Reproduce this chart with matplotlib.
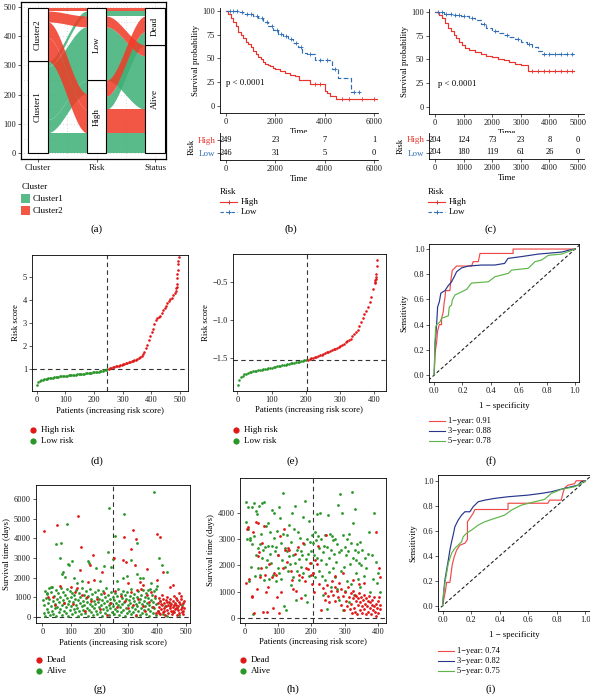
import numpy as np
import matplotlib
matplotlib.use('Agg')
import matplotlib.pyplot as plt
from matplotlib.patches import Rectangle

plt.rcParams['font.family'] = ['Liberation Serif', 'DejaVu Serif']
plt.rcParams['font.size'] = 6
plt.rcParams['axes.linewidth'] = 0.6
plt.rcParams['xtick.major.size'] = 2
plt.rcParams['ytick.major.size'] = 2
plt.rcParams['xtick.major.width'] = 0.5
plt.rcParams['ytick.major.width'] = 0.5
plt.rcParams['xtick.labelsize'] = 6
plt.rcParams['ytick.labelsize'] = 6
plt.rcParams['xtick.major.pad'] = 1.5
plt.rcParams['ytick.major.pad'] = 1.5
plt.rcParams['axes.labelsize'] = 6.3

# ---------------- data ----------------
# (a) alluvial: one entry per cluster/risk/status group
flow_cluster = ['Cluster1', 'Cluster1', 'Cluster1', 'Cluster1', 'Cluster2', 'Cluster2', 'Cluster2', 'Cluster2']
flow_risk = ['High', 'High', 'Low', 'Low', 'High', 'High', 'Low', 'Low']
flow_status = ['Alive', 'Dead', 'Alive', 'Dead', 'Alive', 'Dead', 'Alive', 'Dead']
flow_n = [70, 45, 183, 17, 80, 54, 37, 9]
axis_names = ['Cluster', 'Risk', 'Status']
axis_levels = [['Cluster1', 'Cluster2'], ['High', 'Low'], ['Alive', 'Dead']]
# stacking order of the groups (bottom to top) at each end of each flow segment
order_cluster = [0, 1, 2, 3, 4, 5, 6, 7]
order_risk_left = [0, 4, 5, 1, 2, 6, 3, 7]
order_risk_right = [0, 4, 1, 5, 2, 6, 3, 7]
order_status = [0, 4, 2, 6, 1, 5, 3, 7]

# (b) KM, training set
b_high_t = [0, 100, 200, 300, 400, 500, 600, 700, 800, 900, 1000, 1100, 1200, 1300, 1400, 1500, 1600, 1700,
            1800, 1900, 2000, 2200, 2400, 2600, 2800, 2950, 3400, 4000, 4100, 4200, 4450, 6300]
b_high_s = [100, 96, 92, 88, 84, 78, 75, 71, 67, 65, 62, 58, 55, 51, 49, 46, 44, 43,
            42, 40, 39, 37, 35, 33, 32, 27, 23, 16, 14, 11, 7.3, 7.3]
b_low_t = [0, 500, 700, 900, 1100, 1300, 1500, 1700, 1900, 2100, 2300, 2500, 2700, 2900, 3100, 3300, 3600,
           4300, 4550, 5050, 5450]
b_low_s = [100, 99, 97, 96, 94, 92, 88, 84, 80, 76, 73, 70, 66, 62, 56, 55, 48, 39, 29, 15, 15]
b_high_cens = [3600, 3800, 4700, 5000, 5500, 6000]
b_low_cens = [150, 300, 450, 650, 850, 1000, 1250, 1450, 1650, 1850, 2050, 2250, 2450, 2650, 2850, 3050,
              3400, 3800, 4100, 4400, 5200, 5400]
b_tab_t = [0, 2000, 4000, 6000]
b_tab_high = [249, 23, 7, 1]
b_tab_low = [246, 31, 5, 0]

# (c) KM, validation set
c_high_t = [0, 150, 250, 350, 450, 550, 650, 750, 850, 950, 1050, 1200, 1400, 1600, 1800, 2000, 2200, 2400,
            2600, 2800, 3000, 3250, 4850]
c_high_s = [100, 97, 93, 88, 83, 80, 76, 72, 68, 65, 62, 60, 58, 56, 54, 53, 51, 49, 47, 45, 44, 38.3, 38.3]
c_low_t = [0, 300, 600, 900, 1200, 1400, 1600, 1800, 2000, 2200, 2400, 2600, 2800, 3000, 3200, 3400, 3600,
           3750, 4850]
c_low_s = [100, 98, 97, 95, 93, 91, 87, 83, 80, 78, 76, 74, 71, 68, 66, 63, 59, 56, 56]
c_high_cens = [3400, 3600, 3800, 4000, 4200, 4400, 4600, 4800]
c_low_cens = [100, 250, 400, 550, 700, 850, 1000, 1300, 1700, 2100, 2500, 2900, 3300, 3800, 4000, 4200, 4400,
              4600, 4800]
c_tab_t = [0, 1000, 2000, 3000, 4000, 5000]
c_tab_high = [204, 124, 73, 23, 8, 0]
c_tab_low = [204, 180, 119, 61, 26, 0]

# (d) sorted risk score, training set (every 5th patient, then each of the last ten)
d_cut_pat = 247
d_cut_score = 1.03
d_pat = list(range(1, 486, 5)) + list(range(486, 496))
d_score = [0.32, 0.45, 0.50, 0.53, 0.55, 0.57, 0.59, 0.60, 0.61, 0.62, 0.63, 0.64, 0.65, 0.66, 0.67, 0.68,
           0.69, 0.70, 0.71, 0.72, 0.73, 0.73, 0.74, 0.75, 0.75, 0.76, 0.77, 0.77, 0.78, 0.79, 0.79, 0.80,
           0.81, 0.81, 0.82, 0.83, 0.84, 0.85, 0.85, 0.86, 0.87, 0.88, 0.89, 0.90, 0.91, 0.93, 0.94, 0.96,
           0.98, 1.00,
           1.03, 1.05, 1.06, 1.08, 1.10, 1.12, 1.14, 1.16, 1.18, 1.20, 1.22, 1.24, 1.26, 1.28, 1.30, 1.32,
           1.34, 1.37, 1.39, 1.42, 1.45, 1.48, 1.52, 1.58, 1.66, 1.76, 1.90, 2.05, 2.25, 2.45, 2.60, 2.75,
           2.95, 3.12, 3.20, 3.25, 3.30, 3.42, 3.55, 3.65, 3.75, 3.85, 3.95, 4.02, 4.10, 4.20, 4.30,
           4.40, 4.50, 4.55, 4.70, 4.95, 5.10, 5.30, 5.55, 5.70, 5.85]

# (e) sorted risk score, validation set
e_cut_pat = 204
e_cut_score = -1.53
e_pat = list(range(1, 402, 5)) + list(range(402, 409))
e_score = [-1.86, -1.79, -1.76, -1.74, -1.72, -1.71, -1.70, -1.69, -1.685, -1.68, -1.675, -1.67, -1.668,
           -1.665, -1.66, -1.655, -1.65, -1.645, -1.64, -1.635, -1.63, -1.625, -1.62, -1.615, -1.61, -1.605,
           -1.60, -1.595, -1.59, -1.585, -1.58, -1.575, -1.57, -1.565, -1.56, -1.555, -1.55, -1.545, -1.54,
           -1.535, -1.53,
           -1.525, -1.52, -1.51, -1.50, -1.495, -1.49, -1.48, -1.47, -1.46, -1.45, -1.44, -1.43, -1.42,
           -1.41, -1.40, -1.39, -1.38, -1.37, -1.36, -1.345, -1.33, -1.315, -1.30, -1.28, -1.265, -1.25,
           -1.22, -1.19, -1.16, -1.13, -1.08, -1.03, -0.98, -0.93, -0.88, -0.83, -0.77, -0.70, -0.60, -0.52,
           -0.50, -0.48, -0.46, -0.44, -0.40, -0.30, -0.22]

# (f) ROC, training set
f_fpr1 = [0, 0.005, 0.017, 0.024, 0.036, 0.052, 0.052, 0.064, 0.071, 0.076, 0.081, 0.111, 0.118, 0.128,
          0.159, 0.265, 0.277, 0.313, 0.325, 0.56, 0.56, 1]
f_tpr1 = [0, 0.17, 0.26, 0.35, 0.40, 0.40, 0.45, 0.50, 0.58, 0.61, 0.67, 0.67, 0.75, 0.83,
          0.865, 0.865, 0.9, 0.9, 0.965, 0.965, 1.0, 1.0]
f_fpr3 = [0, 0.005, 0.01, 0.017, 0.024, 0.036, 0.047, 0.076, 0.1, 0.123, 0.142, 0.159, 0.194, 0.242,
          0.336, 0.43, 0.5, 0.524, 0.62, 0.739, 0.905, 0.953, 1]
f_tpr3 = [0, 0.24, 0.30, 0.40, 0.54, 0.58, 0.65, 0.67, 0.71, 0.74, 0.78, 0.82, 0.85, 0.865,
          0.873, 0.873, 0.886, 0.926, 0.94, 0.96, 0.976, 0.99, 1]
f_fpr5 = [0, 0.005, 0.01, 0.017, 0.04, 0.052, 0.076, 0.1, 0.107, 0.123, 0.128, 0.147, 0.194, 0.23, 0.265,
          0.384, 0.431, 0.526, 0.55, 0.668, 0.716, 0.763, 0.81, 0.905, 0.953, 1]
f_tpr5 = [0, 0.25, 0.38, 0.40, 0.42, 0.45, 0.46, 0.47, 0.54, 0.556, 0.595, 0.635, 0.66, 0.68, 0.73,
          0.74, 0.78, 0.807, 0.833, 0.847, 0.9, 0.913, 0.95, 0.96, 0.98, 1]
f_auc = ['1\u2212year: 0.91', '3\u2212year: 0.88', '5\u2212year: 0.78']

# (i) ROC, validation set
i_fpr1 = [0, 0.012, 0.021, 0.028, 0.051, 0.058, 0.067, 0.081, 0.098, 0.121, 0.156, 0.174, 0.174, 0.191,
          0.214, 0.226, 0.458, 0.458, 0.737, 0.749, 0.83, 0.842, 0.853, 0.877, 0.923, 0.935, 1]
i_tpr1 = [0, 0.072, 0.125, 0.187, 0.187, 0.245, 0.325, 0.39, 0.445, 0.485, 0.5, 0.53, 0.672, 0.7,
          0.74, 0.77, 0.77, 0.82, 0.82, 0.845, 0.845, 0.9, 0.94, 0.965, 0.976, 1.0, 1]
i_fpr3 = [0, 0.007, 0.016, 0.028, 0.04, 0.051, 0.063, 0.074, 0.086, 0.109, 0.133, 0.156, 0.191, 0.214,
          0.249, 0.295, 0.365, 0.458, 0.598, 0.691, 0.761, 0.853, 0.947, 0.97, 1]
i_tpr3 = [0, 0.1, 0.205, 0.285, 0.365, 0.445, 0.512, 0.565, 0.632, 0.685, 0.725, 0.752, 0.752, 0.792,
          0.832, 0.845, 0.859, 0.872, 0.885, 0.899, 0.912, 0.939, 0.965, 0.992, 1]
i_fpr5 = [0, 0.007, 0.016, 0.028, 0.04, 0.063, 0.086, 0.109, 0.133, 0.144, 0.167, 0.202, 0.249, 0.295,
          0.365, 0.435, 0.481, 0.551, 0.644, 0.714, 0.761, 0.83, 0.923, 0.97, 1]
i_tpr5 = [0, 0.1, 0.18, 0.26, 0.34, 0.42, 0.46, 0.485, 0.512, 0.552, 0.579, 0.605, 0.645, 0.672,
          0.699, 0.725, 0.765, 0.805, 0.832, 0.851, 0.899, 0.931, 0.952, 0.979, 1]
i_auc = ['1\u2212year: 0.74', '3\u2212year: 0.82', '5\u2212year: 0.75']

# (g) survival status, training set: (patient rank, survival days)
g_alive = [(3, 850), (5, 200), (7, 600), (9, 1300), (11, 50), (13, 950), (15, 400), (17, 1150), (19, 700),
           (21, 250), (23, 1450), (25, 900), (27, 100), (29, 550), (31, 1250), (33, 300), (35, 1500),
           (37, 800), (39, 150), (41, 1050), (43, 450), (45, 650), (47, 1350), (49, 20), (51, 900),
           (53, 500), (55, 1200), (57, 250), (59, 750), (61, 1000), (63, 400), (65, 1450), (67, 600),
           (69, 100), (71, 850), (73, 1250), (75, 300), (77, 700), (79, 1100), (81, 500), (83, 200),
           (85, 950), (87, 1400), (89, 650), (91, 50), (93, 800), (95, 1300), (97, 350), (99, 1000),
           (101, 550), (103, 150), (105, 1200), (107, 750), (109, 400), (111, 1100), (113, 900), (115, 250),
           (117, 600), (119, 1350), (121, 450), (123, 50), (125, 850), (127, 1200), (129, 300), (131, 700),
           (133, 1000), (135, 150), (137, 550), (139, 1450), (141, 800), (143, 350), (145, 1100), (147, 600),
           (149, 200), (151, 950), (153, 1300), (155, 450), (157, 750), (159, 50), (161, 1050), (163, 350),
           (165, 650), (167, 1400), (169, 250), (171, 900), (173, 550), (175, 1150), (177, 100), (179, 800),
           (181, 450), (183, 1250), (185, 650), (187, 300), (189, 1000), (191, 150), (193, 750), (195, 1350),
           (197, 500), (199, 900), (201, 250), (203, 1150), (205, 600), (207, 50), (209, 850), (211, 400),
           (213, 1300), (215, 700), (217, 200), (219, 1000), (221, 500), (223, 1450), (225, 800), (227, 350),
           (229, 1100), (231, 600), (233, 100), (235, 900), (237, 450), (239, 1250), (241, 700), (243, 250),
           (245, 1000), (247, 550), (249, 150), (251, 850), (253, 1200), (255, 400), (257, 700), (259, 1050),
           (261, 300), (263, 600), (265, 1400), (267, 100), (269, 800), (271, 500), (273, 1150), (275, 250),
           (277, 950), (279, 650), (281, 1300), (283, 350), (285, 750), (287, 50), (289, 1100), (291, 450),
           (293, 900), (295, 200), (297, 1250), (299, 600), (301, 850), (303, 300), (305, 1050), (307, 700),
           (309, 150), (311, 1400), (313, 500), (315, 950), (317, 250), (319, 800), (321, 1150), (323, 400),
           (325, 650), (327, 50), (329, 1000), (331, 550), (333, 300), (335, 1300), (337, 750), (339, 100),
           (341, 900), (343, 450), (345, 1100), (347, 650), (349, 200), (351, 1350), (353, 800), (355, 350),
           (357, 1000), (359, 550), (361, 150), (363, 1200), (365, 700), (367, 400), (369, 950), (371, 50),
           (373, 600), (375, 1400), (377, 300), (379, 850), (381, 500), (383, 1100), (385, 200), (387, 750),
           (389, 1300), (391, 450), (393, 950), (395, 100), (397, 650), (399, 1550), (405, 300), (412, 800),
           (420, 150), (428, 550), (436, 50), (445, 700), (455, 250), (465, 450), (478, 100), (488, 600),
           (48, 3720), (65, 3750), (85, 4740), (62, 2980), (73, 2300), (80, 2050), (105, 2850), (94, 2640),
           (158, 2850), (163, 2730), (187, 2470), (230, 3290), (234, 5540), (238, 2560), (245, 2950),
           (253, 4120), (285, 5250), (294, 2080), (308, 2900), (329, 3750), (340, 1960), (370, 1360),
           (390, 6390), (408, 2980), (416, 2640), (434, 2300), (70, 2200), (90, 2700), (110, 2000),
           (200, 1800), (215, 2600), (260, 1800), (280, 2000), (330, 2200), (350, 2000), (380, 1700),
           (395, 1400), (120, 1700), (140, 1800), (30, 1500), (15, 1200)]
g_dead = [(20, 1000), (38, 1020), (45, 600), (60, 1580), (75, 700), (99, 1530), (108, 650), (115, 1250),
          (122, 1450), (140, 1100), (150, 300), (155, 1020), (170, 800), (190, 900), (200, 400), (215, 1200),
          (225, 100), (235, 700), (255, 1300), (262, 500), (275, 1050), (290, 800), (300, 450), (310, 1250),
          (318, 600), (325, 100), (333, 900), (345, 1400), (350, 550), (358, 300), (365, 1100), (372, 750),
          (380, 1250), (386, 500), (394, 1050), (398, 200),
          (7, 4400), (52, 4690), (123, 5150), (135, 3580), (131, 2390), (176, 3150), (166, 2640), (160, 1790),
          (207, 2300), (181, 1900), (249, 2980), (283, 2900), (292, 2810), (285, 4060), (315, 4430),
          (308, 3460), (327, 3950), (323, 2640), (329, 1360), (340, 1790), (366, 2440), (399, 4230),
          (410, 4090), (422, 2300), (399, 1880), (445, 1530), (455, 1620), (300, 1700), (350, 1600),
          (402, 700), (404, 300), (406, 950), (408, 500), (410, 150), (412, 800), (414, 400), (416, 1100),
          (418, 600), (420, 250), (422, 900), (424, 450), (426, 700), (428, 100), (430, 550), (432, 850),
          (434, 350), (436, 1000), (438, 600), (440, 200), (442, 750), (444, 450), (446, 900), (448, 300),
          (450, 650), (452, 150), (454, 800), (456, 500), (458, 1050), (460, 250), (462, 700), (464, 400),
          (466, 600), (468, 100), (470, 850), (472, 350), (474, 550), (476, 750), (478, 200), (480, 650),
          (482, 400), (484, 900), (486, 250), (488, 500), (490, 700), (492, 150), (494, 450), (495, 800),
          (485, 1050), (475, 1200), (465, 950), (455, 300), (445, 550), (435, 750), (425, 300), (415, 650),
          (407, 200), (490, 300), (470, 450), (460, 600)]

# (h) survival status, validation set
h_alive = [(2, 3650), (4, 4400), (6, 3000), (8, 4200), (10, 3400), (12, 1400), (14, 2950), (16, 3050),
           (18, 1950), (20, 4200), (22, 2800), (24, 150), (26, 3100), (28, 4350), (30, 1600), (32, 4050),
           (34, 2400), (36, 3950), (38, 1900), (40, 2650), (42, 4250), (44, 1650), (46, 2800), (48, 3200),
           (50, 2300), (52, 4350), (54, 2600), (56, 1450), (58, 4400), (60, 2700), (62, 3500), (64, 1950),
           (66, 2200), (68, 3600), (70, 2750), (72, 1500), (74, 2450), (76, 3250), (78, 2100), (80, 4100),
           (82, 2750), (84, 1650), (86, 4000), (88, 3050), (90, 2550), (92, 1400), (94, 2700), (96, 3300),
           (98, 1900), (100, 2400), (102, 4200), (104, 1700), (106, 3800), (108, 2850), (110, 1500),
           (112, 2200), (114, 3200), (116, 4750), (118, 450), (120, 2650), (122, 1950), (124, 300),
           (126, 2550), (128, 3150), (130, 1800), (132, 2350), (134, 3550), (136, 2050), (138, 1250),
           (140, 2900), (142, 4000), (144, 1550), (146, 2400), (148, 3400), (150, 2100), (152, 4250),
           (154, 700), (156, 2600), (158, 1800), (160, 3250), (162, 2250), (164, 1450), (166, 3050),
           (168, 2550), (170, 1950), (172, 2400), (174, 3850), (176, 1700), (178, 2800), (180, 900),
           (182, 4450), (184, 2250), (186, 3000), (188, 600), (190, 2450), (192, 3700), (194, 1600),
           (196, 2900), (198, 2550), (200, 2100), (202, 3150), (204, 1700), (206, 2850), (208, 2400),
           (210, 3250), (212, 1550), (214, 2950), (216, 3950), (218, 2300), (220, 3100), (222, 1800),
           (224, 2650), (226, 4000), (228, 2200), (230, 3000), (232, 1600), (234, 2500), (236, 900),
           (238, 2750), (240, 1450), (242, 3150), (244, 2050), (246, 350), (248, 2700), (250, 3900),
           (252, 1750), (254, 2300), (256, 3200), (258, 1200), (260, 2600), (262, 3100), (264, 2950),
           (266, 1900), (268, 2450), (270, 1550), (272, 3000), (274, 2150), (276, 1100), (278, 2800),
           (280, 4300), (282, 2500), (284, 700), (286, 4700), (288, 1800), (290, 2600), (292, 4000),
           (294, 300), (296, 3150), (298, 1950), (300, 2700), (302, 1050), (304, 2400), (306, 3000),
           (308, 1400), (310, 2550), (312, 3200), (314, 600), (316, 2050), (318, 2850), (320, 1300),
           (322, 4800), (324, 2300), (326, 3600), (328, 900), (330, 2600), (332, 4150), (334, 1700),
           (336, 2200), (338, 2800), (340, 2500), (342, 1500), (344, 2100), (346, 2900), (348, 1200),
           (350, 2000), (354, 2600), (358, 1600), (362, 2300), (366, 1900), (370, 2450), (374, 3250),
           (378, 1000), (382, 2400), (386, 1500), (390, 4000), (394, 2150), (398, 1350), (402, 1700),
           (406, 1000)]
h_dead = [(3, 1350), (6, 3400), (8, 3450), (12, 1500), (20, 850), (22, 800), (25, 3250), (28, 200),
          (32, 3650), (35, 1100), (38, 3600), (40, 2350), (42, 2500), (45, 1550), (48, 1900), (52, 2850),
          (55, 250), (58, 3500), (60, 1650), (64, 1000), (66, 250), (70, 1200), (72, 2050), (80, 1550),
          (84, 400), (88, 1700), (92, 1650), (96, 800), (100, 2400), (104, 200), (106, 3100), (110, 1000),
          (114, 1900), (118, 3400), (122, 2600), (126, 2150), (130, 2650), (134, 2600), (138, 1800),
          (142, 1450), (146, 1100), (150, 2450), (155, 1050), (160, 2700), (164, 1650), (168, 750),
          (172, 1550), (176, 2850), (180, 1400), (185, 1900), (190, 1850), (195, 2100), (198, 1650),
          (202, 1300), (206, 1700), (208, 1000), (212, 2200), (216, 2050), (220, 2750), (224, 1300),
          (230, 300), (236, 1150), (240, 950), (242, 700), (244, 3150), (248, 1250), (250, 850), (254, 600),
          (258, 1050), (262, 1400), (266, 900), (270, 650), (272, 1200), (276, 1050), (280, 800), (284, 1350),
          (288, 500), (290, 1100), (294, 850), (298, 300), (300, 1000), (303, 650), (306, 450), (309, 1200),
          (312, 800), (315, 350), (318, 950), (320, 550), (322, 200), (324, 750), (326, 1050), (328, 400),
          (330, 900), (332, 250), (334, 650), (336, 850), (338, 150), (340, 500), (342, 750), (344, 950),
          (346, 300), (348, 600), (350, 800), (352, 200), (354, 450), (356, 700), (358, 900), (360, 350),
          (362, 550), (364, 150), (366, 750), (368, 450), (370, 650), (372, 250), (374, 850), (376, 400),
          (378, 600), (380, 150), (382, 500), (384, 700), (386, 300), (388, 450), (390, 800), (392, 250),
          (394, 550), (396, 100), (398, 400), (400, 650), (402, 200), (404, 800), (405, 1900), (406, 350),
          (407, 1550), (408, 500), (396, 3250), (360, 1350), (345, 1300), (325, 1450), (295, 1700),
          (270, 1600)]

# ---------------- styling ----------------
W, H = 590, 697
RED_KM, BLUE_KM = '#E8342C', '#2F6DB5'
ALL_GREEN, ALL_RED = '#3DAF76', '#F03A26'
DOT_RED, DOT_GREEN = '#E01818', '#2A962A'
ROC_RED, ROC_BLUE, ROC_GREEN = '#F04848', '#27358A', '#5DB548'
TXT = '#1a1a1a'

fig = plt.figure(figsize=(W / 100, H / 100), dpi=100)


def add_ax(l, t, r, b):
    return fig.add_axes([l / W, 1 - b / H, (r - l) / W, (b - t) / H])


def classic(ax):
    ax.spines['top'].set_visible(False)
    ax.spines['right'].set_visible(False)
    ax.tick_params(colors=TXT)


# ---------------- (a) alluvial ----------------
ax = add_ax(21, 2, 166, 159)
ax.set_xlim(0.709, 3.188)
ax.set_ylim(-20, 517)
for gx in [1, 1.5, 2, 2.5, 3]:
    ax.axvline(gx, color='#bbbbbb', lw=0.5, ls=(0, (1, 3)), zorder=0)
for gy in range(0, 501, 50):
    ax.axhline(gy, color='#bbbbbb', lw=0.5, ls=(0, (1, 3)), zorder=0)


def stack(order):
    p, y0 = {}, 0
    for i in order:
        p[i] = (y0, y0 + flow_n[i])
        y0 += flow_n[i]
    return p


segments = [(stack(order_cluster), stack(order_risk_left)),
            (stack(order_risk_right), stack(order_status))]
bw = 1 / 3
tt = np.linspace(0, 1, 60)
sm = 3 * tt ** 2 - 2 * tt ** 3
for colour_level, fc in [('Cluster1', ALL_GREEN), ('Cluster2', ALL_RED)]:
    for i in range(len(flow_n)):
        if flow_cluster[i] != colour_level:
            continue
        for k, (pa, pb) in enumerate(segments):
            xa, xb = k + 1 + bw / 2, k + 2 - bw / 2
            xs = xa + (xb - xa) * tt
            lo = pa[i][0] + (pb[i][0] - pa[i][0]) * sm
            hi = pa[i][1] + (pb[i][1] - pa[i][1]) * sm
            ax.fill_between(xs, lo, hi, color=fc, alpha=0.85, lw=0, zorder=2)

cols = [flow_cluster, flow_risk, flow_status]
for k in range(3):
    y0 = 0
    for lev in axis_levels[k]:
        n = sum(flow_n[i] for i in range(len(flow_n)) if cols[k][i] == lev)
        ax.add_patch(Rectangle((k + 1 - bw / 2, y0), bw, n, facecolor='white', edgecolor='black',
                               lw=0.8, zorder=3))
        ax.text(k + 1, y0 + n / 2, lev, rotation=90, ha='center', va='center', fontsize=6.5, zorder=4)
        y0 += n
ax.set_xticks([1, 2, 3])
ax.set_xticklabels(axis_names, fontsize=6.5)
ax.set_yticks(range(0, 501, 100))
ax.tick_params(colors=TXT, length=2)
for s in ax.spines.values():
    s.set_linewidth(0.9)


# ---------------- KM helper ----------------
def km_panel(box, tbox, xlim, ylim, ht, hs, lt, ls_, hc, lc, ticks, tab_t, tab_h, tab_l, ptxt_xy):
    ax = add_ax(*box)
    classic(ax)
    ax.step(ht, hs, where='post', color=RED_KM, lw=0.85)
    ax.step(lt, ls_, where='post', color=BLUE_KM, lw=0.85, ls=(0, (4, 2)))
    for cens, tms, sv, col in [(hc, ht, hs, RED_KM), (lc, lt, ls_, BLUE_KM)]:
        idx = np.searchsorted(tms, cens, side='right') - 1
        ax.plot(cens, np.asarray(sv)[idx], '+', color=col, ms=3, mew=0.6)
    ax.set_xlim(*xlim)
    ax.set_ylim(*ylim)
    ax.set_xticks(ticks)
    ax.set_yticks([0, 25, 50, 75, 100])
    ax.set_xlabel('Time', labelpad=1.5)
    ax.set_ylabel('Survival probability', labelpad=2)
    ax.text(ptxt_xy[0], ptxt_xy[1], 'p < 0.0001', fontsize=6.3, ha='left', va='center')

    tx = add_ax(*tbox)
    classic(tx)
    tx.set_xlim(*xlim)
    tx.set_ylim(-0.5, 1.5)
    for t, a, b in zip(tab_t, tab_h, tab_l):
        tx.text(t, 1, str(a), ha='center', va='center', fontsize=6)
        tx.text(t, 0, str(b), ha='center', va='center', fontsize=6)
    tx.set_yticks([1, 0])
    tx.set_yticklabels(['High', 'Low'], fontsize=6.5)
    tx.get_yticklabels()[0].set_color(RED_KM)
    tx.get_yticklabels()[1].set_color(BLUE_KM)
    tx.set_xticks(ticks)
    tx.set_xlabel('Time', labelpad=1.5)
    tx.set_ylabel('Risk', labelpad=1)
    return ax


km_panel((220, 8, 378, 113), (220, 133, 378, 160), (-243, 6162), (-7.3, 102.8),
         b_high_t, b_high_s, b_low_t, b_low_s, b_high_cens, b_low_cens,
         [0, 2000, 4000, 6000], b_tab_t, b_tab_high, b_tab_low, (0, 24))
km_panel((429, 9, 584, 114), (429, 133, 584, 159), (-210, 5210), (-7.0, 102.8),
         c_high_t, c_high_s, c_low_t, c_low_s, c_high_cens, c_low_cens,
         [0, 1000, 2000, 3000, 4000, 5000], c_tab_t, c_tab_high, c_tab_low, (100, 24))


# ---------------- (d), (e) risk score ----------------
def risk_panel(box, xlim, ylim, pat, score, cut_pat, cut_score, xticks, yticks, yfmt):
    ax = add_ax(*box)
    ax.tick_params(colors=TXT)
    pat = np.asarray(pat)
    score = np.asarray(score)
    hi = pat > cut_pat
    ax.scatter(pat[~hi], score[~hi], s=3.5, color=DOT_GREEN, lw=0, zorder=3)
    ax.scatter(pat[hi], score[hi], s=3.5, color=DOT_RED, lw=0, zorder=3)
    ax.axvline(cut_pat, color='#333333', lw=0.8, ls=(0, (4, 3)), zorder=2)
    ax.axhline(cut_score, color='#333333', lw=0.8, ls=(0, (4, 3)), zorder=2)
    ax.set_xlim(*xlim)
    ax.set_ylim(*ylim)
    ax.set_xticks(xticks)
    ax.set_yticks(yticks)
    ax.set_yticklabels([yfmt(v) for v in yticks])
    ax.set_xlabel('Patients (increasing risk score)', labelpad=2)
    ax.set_ylabel('Risk score', labelpad=2)
    return ax


risk_panel((32, 255, 188, 391), (-16.4, 528), (0.06, 5.94), d_pat, d_score, d_cut_pat, d_cut_score,
           range(0, 501, 100), [1, 2, 3, 4, 5], lambda v: str(v))
risk_panel((232.7, 254.3, 385.7, 390.7), (-13.4, 433), (-1.934, -0.14), e_pat, e_score, e_cut_pat,
           e_cut_score, range(0, 401, 100), [-1.5, -1.0, -0.5], lambda v: ('%.1f' % v).replace('-', '\u2212'))


# ---------------- (f), (i) ROC ----------------
def roc_panel(box, xlim, ylim, curves):
    ax = add_ax(*box)
    ax.tick_params(colors=TXT)
    ax.plot([-0.1, 1.1], [-0.1, 1.1], color='#222222', lw=0.8, ls=(0, (3, 2)), zorder=2)
    for fpr, tpr, col in curves:
        ax.plot(fpr, tpr, color=col, lw=0.85, zorder=3)
    ax.set_xlim(*xlim)
    ax.set_ylim(*ylim)
    tk = [0, 0.2, 0.4, 0.6, 0.8, 1.0]
    ax.set_xticks(tk)
    ax.set_yticks(tk)
    ax.set_xticklabels(['%.1f' % v for v in tk])
    ax.set_yticklabels(['%.1f' % v for v in tk])
    ax.set_xlabel('1 \u2212 specificity', labelpad=5)
    ax.set_ylabel('Sensitivity', labelpad=4)
    return ax


roc_panel((429.3, 244, 579, 381.7), (-0.035, 1.028), (-0.053, 1.04),
          [(f_fpr1, f_tpr1, ROC_RED), (f_fpr3, f_tpr3, ROC_BLUE), (f_fpr5, f_tpr5, ROC_GREEN)])
roc_panel((438.3, 475, 589.5, 611), (-0.03, 1.028), (-0.042, 1.046),
          [(i_fpr1, i_tpr1, ROC_RED), (i_fpr3, i_tpr3, ROC_BLUE), (i_fpr5, i_tpr5, ROC_GREEN)])


# ---------------- (g), (h) survival status ----------------
def status_panel(box, xlim, ylim, alive, dead, cut_pat, xticks, yticks):
    ax = add_ax(*box)
    ax.tick_params(colors=TXT)
    ap, ad = zip(*alive)
    dp, dd = zip(*dead)
    ax.scatter(ap, ad, s=4, color=DOT_GREEN, lw=0, zorder=3)
    ax.scatter(dp, dd, s=4, color=DOT_RED, lw=0, zorder=3)
    ax.axvline(cut_pat, color='#333333', lw=0.8, ls=(0, (4, 3)), zorder=2)
    ax.axhline(0, color='#333333', lw=0.8, ls=(0, (4, 3)), zorder=2)
    ax.set_xlim(*xlim)
    ax.set_ylim(*ylim)
    ax.set_xticks(xticks)
    ax.set_yticks(yticks)
    ax.set_xlabel('Patients (increasing risk score)', labelpad=2)
    ax.set_ylabel('Survival time (days)', labelpad=2)
    return ax


status_panel((35.7, 485, 190, 623.3), (-23, 515), (-337, 6730), g_alive, g_dead, d_cut_pat,
             range(0, 501, 100), range(0, 6001, 1000))
status_panel((240, 478.3, 385.7, 622.7), (-15, 424), (-167, 5303), h_alive, h_dead, e_cut_pat,
             range(0, 401, 100), range(0, 4001, 1000))

# ---------------- legends and panel labels (pixel overlay) ----------------
ov = fig.add_axes([0, 0, 1, 1])
ov.set_xlim(0, W)
ov.set_ylim(H, 0)
ov.axis('off')

ov.text(22, 187, 'Cluster', fontsize=6.5, va='center')
for j, (lab, col) in enumerate([('Cluster1', ALL_GREEN), ('Cluster2', ALL_RED)]):
    ov.add_patch(Rectangle((21, 194 + 12 * j), 9, 9, facecolor=col, alpha=0.85, lw=0))
    ov.text(33, 199 + 12 * j, lab, fontsize=6.5, va='center')

for x0, y0 in [(220, 192), (428, 192)]:
    ov.text(x0, y0, 'Risk', fontsize=6.5, va='center')
    ov.plot([x0, x0 + 17], [y0 + 9.5, y0 + 9.5], color=RED_KM, lw=0.8)
    ov.plot([x0 + 8.5], [y0 + 9.5], '+', color=RED_KM, ms=3.5, mew=0.7)
    ov.text(x0 + 21, y0 + 9.5, 'High', fontsize=6.5, va='center')
    ov.plot([x0, x0 + 17], [y0 + 19.5, y0 + 19.5], color=BLUE_KM, lw=0.8, ls=(0, (3, 2)))
    ov.plot([x0 + 8.5], [y0 + 19.5], '+', color=BLUE_KM, ms=3.5, mew=0.7)
    ov.text(x0 + 21, y0 + 19.5, 'Low', fontsize=6.5, va='center')

for x0, y0, labs in [(33, 430, ['High risk', 'Low risk']), (236, 430, ['High risk', 'Low risk']),
                     (39, 660, ['Dead', 'Alive']), (243, 660, ['Dead', 'Alive'])]:
    for j, (lab, col) in enumerate(zip(labs, [DOT_RED, DOT_GREEN])):
        ov.plot([x0], [y0 + 10.7 * j], 'o', color=col, ms=4.5, mew=0)
        ov.text(x0 + 8, y0 + 10.7 * j, lab, fontsize=6.5, va='center')

for x0, y0, labs in [(429, 421, f_auc), (438, 651, i_auc)]:
    for j, (lab, col) in enumerate(zip(labs, [ROC_RED, ROC_BLUE, ROC_GREEN])):
        ov.plot([x0, x0 + 16], [y0 + 10 * j] * 2, color=col, lw=0.8)
        ov.text(x0 + 19, y0 + 10 * j, lab, fontsize=6, va='center')

for lab, x0, y0 in [('(a)', 97, 229), ('(b)', 291, 229), ('(c)', 491, 229),
                    ('(d)', 97, 461), ('(e)', 293, 461), ('(f)', 491, 461),
                    ('(g)', 100, 689), ('(h)', 293, 689), ('(i)', 491, 689)]:
    ov.text(x0, y0, lab, fontsize=8, ha='center', va='center')

fig.savefig('out.png', dpi=100)
